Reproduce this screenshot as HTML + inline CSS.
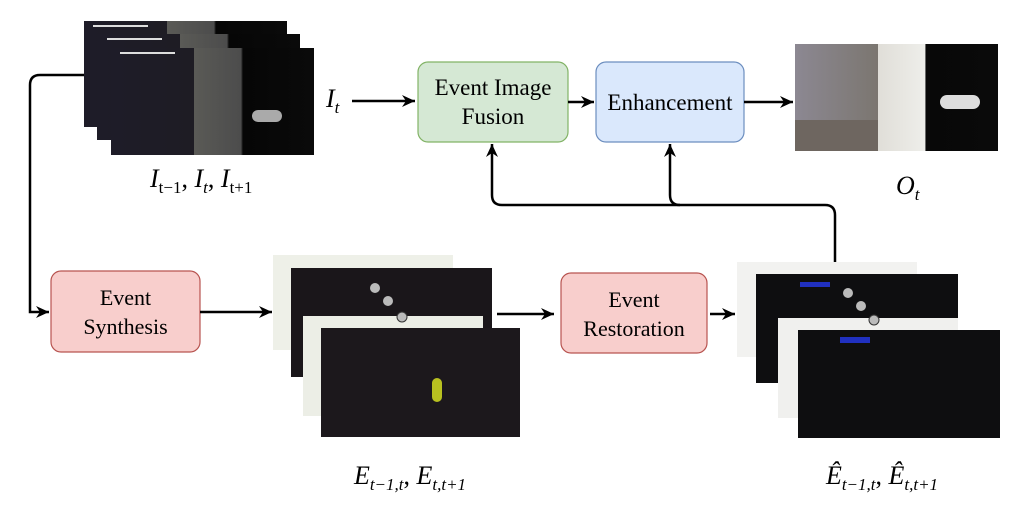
<!DOCTYPE html>
<html><head><meta charset="utf-8"><style>
body{margin:0;background:#fff;width:1019px;height:506px;overflow:hidden}
svg{display:block}
text{font-family:"Liberation Serif",serif;fill:#000}
</style></head><body>
<svg width="1019" height="506" viewBox="0 0 1019 506" xmlns="http://www.w3.org/2000/svg">
<defs>
<marker id="a" markerWidth="14" markerHeight="14" refX="13" refY="6" orient="auto" markerUnits="userSpaceOnUse">
<path d="M0,0 L13,6 L0,12 L4,6 Z" fill="#000"/></marker>
<linearGradient id="dk" x1="0" y1="0" x2="1" y2="0">
<stop offset="0" stop-color="#1e1c28"/><stop offset="0.41" stop-color="#1e1c24"/><stop offset="0.41" stop-color="#5a5a56"/><stop offset="0.64" stop-color="#4c4c4c"/><stop offset="0.65" stop-color="#060606"/><stop offset="1" stop-color="#0a0a0a"/></linearGradient>
<linearGradient id="out" x1="0" y1="0" x2="1" y2="0">
<stop offset="0" stop-color="#8c8892"/><stop offset="0.41" stop-color="#7b7670"/><stop offset="0.41" stop-color="#e0ded8"/><stop offset="0.64" stop-color="#eeeeea"/><stop offset="0.645" stop-color="#080808"/><stop offset="1" stop-color="#0a0a0a"/></linearGradient>
</defs>
<!-- top-left frames -->
<rect x="84" y="21" width="203" height="106" fill="url(#dk)"/>
<rect x="97" y="34" width="203" height="106" fill="url(#dk)"/>
<rect x="111" y="48" width="203" height="107" fill="url(#dk)"/>
<rect x="93" y="25" width="55" height="2" fill="#ddd"/><rect x="107" y="38" width="55" height="2" fill="#ddd"/><rect x="120" y="52" width="55" height="2" fill="#ddd"/>
<rect x="252" y="110" width="30" height="12" rx="6" fill="#aaa"/>
<text x="150" y="187" font-size="26" font-style="italic">I<tspan font-size="17" dy="6" font-style="normal">t−1</tspan><tspan dy="-6" font-style="normal">, </tspan>I<tspan font-size="17" dy="6">t</tspan><tspan dy="-6" font-style="normal">, </tspan>I<tspan font-size="17" dy="6" font-style="normal">t+1</tspan></text>
<!-- left connector -->
<path d="M84,75 L40,75 Q30,75 30,85 L30,312 L49,312" fill="none" stroke="#000" stroke-width="2.5" marker-end="url(#a)"/>
<!-- Event Synthesis -->
<rect x="51" y="271" width="149" height="81" rx="10" fill="#f8cecc" stroke="#b85450" stroke-width="1.2"/>
<text x="125.5" y="305" font-size="22" text-anchor="middle">Event</text>
<text x="125.5" y="334" font-size="22" text-anchor="middle">Synthesis</text>
<path d="M200,312 L272,312" stroke="#000" stroke-width="2.5" marker-end="url(#a)"/>
<!-- event group 1 -->
<rect x="273" y="255" width="180" height="95" fill="#eef0e8"/>
<rect x="291" y="268" width="201" height="109" fill="#1a161a"/>
<rect x="303" y="316" width="180" height="100" fill="#eceee6"/>
<rect x="321" y="328" width="199" height="109" fill="#1c181c"/>
<rect x="432" y="378" width="10" height="24" rx="5" fill="#b8c020"/>
<circle cx="375" cy="288" r="5" fill="#bbb"/><circle cx="388" cy="301" r="5" fill="#bbb"/><circle cx="402" cy="317" r="5" fill="#bbb" stroke="#333"/>
<path d="M497,314 L554,314" stroke="#000" stroke-width="2.5" marker-end="url(#a)"/>
<!-- Event Restoration -->
<rect x="561" y="273" width="146" height="80" rx="10" fill="#f8cecc" stroke="#b85450" stroke-width="1.2"/>
<text x="634" y="307" font-size="22" text-anchor="middle">Event</text>
<text x="634" y="336" font-size="22" text-anchor="middle">Restoration</text>
<path d="M710,314 L735,314" stroke="#000" stroke-width="2.5" marker-end="url(#a)"/>
<!-- event group 2 -->
<rect x="737" y="262" width="180" height="95" fill="#f2f2f0"/>
<rect x="756" y="274" width="202" height="109" fill="#0e0e10"/>
<rect x="778" y="318" width="180" height="100" fill="#f0f0ee"/>
<rect x="798" y="330" width="202" height="108" fill="#0e0e10"/>
<rect x="840" y="337" width="30" height="6" fill="#2030c0"/><rect x="800" y="282" width="30" height="5" fill="#2030c0"/>
<circle cx="848" cy="293" r="5" fill="#bbb"/><circle cx="861" cy="306" r="5" fill="#bbb"/><circle cx="874" cy="320" r="5" fill="#bbb" stroke="#333"/>
<text x="882" y="484" font-size="26" font-style="italic" text-anchor="middle">Ê<tspan font-size="17" dy="6">t−1,t</tspan><tspan dy="-6" font-style="normal">, </tspan>Ê<tspan font-size="17" dy="6">t,t+1</tspan></text>
<text x="410" y="484" font-size="26" font-style="italic" text-anchor="middle">E<tspan font-size="17" dy="6">t−1,t</tspan><tspan dy="-6" font-style="normal">, </tspan>E<tspan font-size="17" dy="6">t,t+1</tspan></text>
<!-- feedback -->
<path d="M835,262 L835,215 Q835,205 825,205 L502,205 Q492,205 492,195 L492,144" fill="none" stroke="#000" stroke-width="2.5" marker-end="url(#a)"/>
<path d="M680,205 Q670,205 670,195 L670,144" fill="none" stroke="#000" stroke-width="2.5" marker-end="url(#a)"/>
<!-- top row -->
<text x="326" y="107" font-size="26" font-style="italic">I<tspan font-size="17" dy="6">t</tspan></text>
<path d="M352,101 L415,101" stroke="#000" stroke-width="2.5" marker-end="url(#a)"/>
<rect x="418" y="62" width="150" height="80" rx="10" fill="#d5e8d4" stroke="#82b366" stroke-width="1.2"/>
<text x="493" y="95" font-size="23" text-anchor="middle">Event Image</text>
<text x="493" y="124" font-size="23" text-anchor="middle">Fusion</text>
<path d="M568,102 L594,102" stroke="#000" stroke-width="2.5" marker-end="url(#a)"/>
<rect x="596" y="62" width="148" height="80" rx="10" fill="#dae8fc" stroke="#6c8ebf" stroke-width="1.2"/>
<text x="670" y="110" font-size="23" text-anchor="middle">Enhancement</text>
<path d="M744,102 L793,102" stroke="#000" stroke-width="2.5" marker-end="url(#a)"/>
<rect x="795" y="44" width="203" height="107" fill="url(#out)"/>
<rect x="795" y="120" width="83" height="31" fill="#6e6660"/>
<rect x="940" y="95" width="40" height="14" rx="7" fill="#ddd"/>
<text x="896" y="194" font-size="26" font-style="italic">O<tspan font-size="17" dy="6">t</tspan></text>
</svg>
</body></html>
